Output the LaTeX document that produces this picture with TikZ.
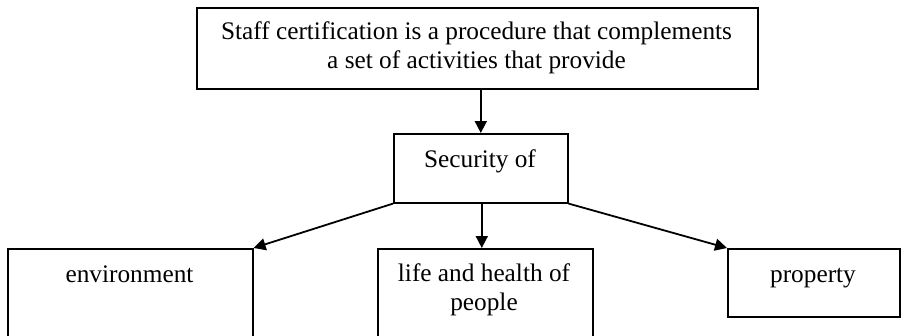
\documentclass[tikz,border=0pt]{standalone}
\usepackage{fontspec}
\setmainfont{Liberation Serif}
\usetikzlibrary{arrows.meta}
\begin{document}
\begin{tikzpicture}[x=1pt,y=-1pt,
  box/.style={draw, line width=1.6pt, inner sep=0pt, anchor=north west},
  txt/.style={anchor=base, inner sep=0pt, font=\fontsize{25.3}{29}\selectfont},
  link/.style={line width=1.8pt, -{Triangle[length=12pt,width=12pt]}}]
\useasboundingbox (0,0) rectangle (903,335);
\clip (0,0) rectangle (903,335);

% boxes
\node[box, minimum width=561pt, minimum height=81pt] (top)  at (196,7)   {};
\node[box, minimum width=174pt, minimum height=69pt] (sec)  at (393,133) {};
\node[box, minimum width=245pt, minimum height=130pt] (env) at (7,248)   {};
\node[box, minimum width=215pt, minimum height=130pt] (life) at (377,248) {};
\node[box, minimum width=172pt, minimum height=68pt] (prop) at (727,248) {};

% labels
\node[txt] (t1) at (476.5,39)  {Staff certification is a procedure that complements};
\node[txt] (t2) at (476.5,68)  {a set of activities that provide};
\node[txt] (s1) at (480,167)   {Security of};
\node[txt] (e1) at (129.5,282) {environment};
\node[txt] (l1) at (484,281)   {life and health of};
\node[txt] (l2) at (484,310)   {people};
\node[txt] (p1) at (813,282)   {property};

% connectors
\draw[link] (sec.north |- top.south) -- (sec.north);
\draw[link] (sec.south west) -- (env.north east);
\draw[link] ([xshift=1pt]sec.south) -- ([xshift=1pt]sec.south |- life.north);
\draw[link] (sec.south east) -- (prop.north west);
\end{tikzpicture}
\end{document}
